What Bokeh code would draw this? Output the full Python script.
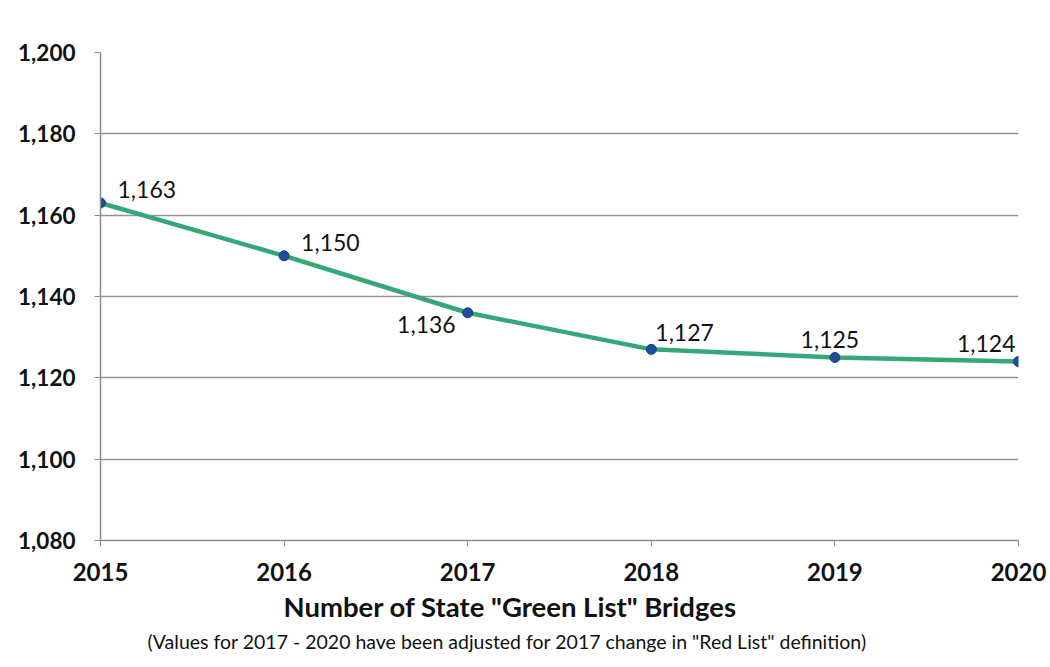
from bokeh.plotting import figure
from bokeh.models import Range1d, ColumnDataSource, FixedTicker, Title, LabelSet, NumeralTickFormatter
from bokeh.core.properties import value
from bokeh.embed import file_html
from bokeh.resources import INLINE

years = [2015, 2016, 2017, 2018, 2019, 2020]
bridges = [1163, 1150, 1136, 1127, 1125, 1124]
labels = ["1,163", "1,150", "1,136", "1,127", "1,125", "1,124"]
y_ticks = [1080, 1100, 1120, 1140, 1160, 1180, 1200]
title_text = 'Number of State "Green List" Bridges'
subtitle_text = '(Values for 2017 - 2020 have been adjusted for 2017 change in "Red List" definition)'

# label placement (style)
lx_off = [17, 17, -12, 4, -5, -3]
ly_off = [13, 13, -12, 17, 18, 18]
l_align = ["left", "left", "right", "left", "center", "right"]

FONT = "Lato"

p = figure(width=1050, height=667, output_backend="svg", toolbar_location=None,
           x_range=Range1d(2015, 2020), y_range=Range1d(1080, 1200),
           min_border_left=100, min_border_right=32, min_border_top=52, min_border_bottom=127)
p.outline_line_color = None
p.background_fill_color = "white"
p.border_fill_color = "white"

p.xgrid.grid_line_color = None
p.ygrid.grid_line_color = "#939393"
p.ygrid.grid_line_width = 1.5
p.ygrid.ticker = FixedTicker(ticks=y_ticks)

p.yaxis.ticker = FixedTicker(ticks=y_ticks)
p.yaxis.formatter = NumeralTickFormatter(format="0,0")
p.yaxis.major_label_text_font = FONT
p.yaxis.major_label_text_font_style = "bold"
p.yaxis.major_label_text_font_size = "22.5px"
p.yaxis.major_label_text_color = "#111111"
p.yaxis.axis_line_color = "#8c8c8c"
p.yaxis.axis_line_width = 1.5
p.yaxis.major_tick_line_color = "#8c8c8c"
p.yaxis.major_tick_out = 6
p.yaxis.major_tick_in = 0
p.yaxis.minor_tick_line_color = None
p.yaxis.major_label_standoff = 19

p.xaxis.ticker = FixedTicker(ticks=years)
p.xaxis.major_label_text_font = FONT
p.xaxis.major_label_text_font_style = "bold"
p.xaxis.major_label_text_font_size = "24px"
p.xaxis.major_label_text_color = "#111111"
p.xaxis.axis_line_color = "#8c8c8c"
p.xaxis.axis_line_width = 1.5
p.xaxis.major_tick_line_color = "#8c8c8c"
p.xaxis.major_tick_out = 6
p.xaxis.major_tick_in = 0
p.xaxis.minor_tick_line_color = None
p.xaxis.major_label_standoff = 16

main = Title(text=title_text, align="left", offset=183, text_font=FONT,
             text_font_size="27.5px", text_font_style="bold", text_color="#111111", standoff=8)
p.add_layout(main, "below")
sub = Title(text=subtitle_text, align="left", offset=47, text_font=FONT,
            text_font_size="19.5px", text_font_style="normal", text_color="#111111", standoff=2)
p.add_layout(sub, "below")

src = ColumnDataSource(dict(x=years, y=bridges, t=labels, xo=lx_off, yo=ly_off, al=l_align))
p.line("x", "y", source=src, line_color="#36a878", line_width=4.5)
p.scatter("x", "y", source=src, size=10, fill_color="#1f4d9e", line_color="#1a3f80")

ls = LabelSet(x="x", y="y", text="t", source=src, x_offset="xo", y_offset="yo",
              text_align="al", text_baseline="middle", text_font=value(FONT),
              text_font_size="23px", text_color="#111111")
p.add_layout(ls)

open("out.html", "w").write(file_html(p, INLINE))
